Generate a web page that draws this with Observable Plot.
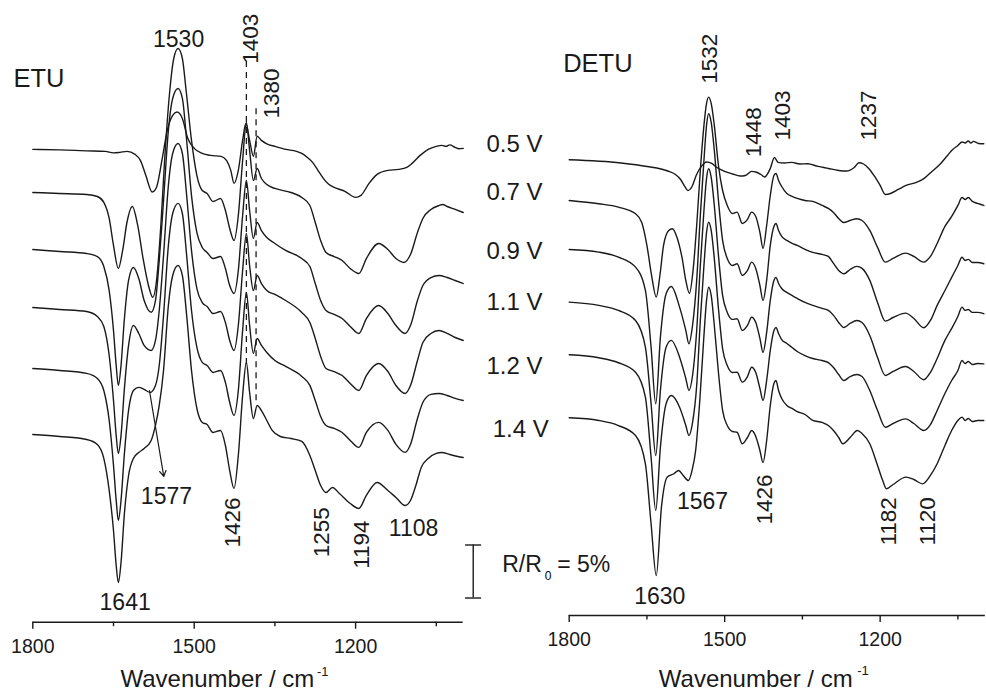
<!DOCTYPE html>
<html><head><meta charset="utf-8">
<script src="https://cdn.jsdelivr.net/npm/d3@7"></script>
<script src="https://cdn.jsdelivr.net/npm/@observablehq/plot@0.6"></script>
<style>
body{margin:0;background:#fff;}
#wrap{position:relative;width:986px;height:695px;overflow:hidden;background:#fff;}
#wrap svg{position:absolute;top:0;}
</style></head><body><div id="wrap"></div>
<script>
// ---------- data (wavenumber cm-1, R/R0 change in %) ----------
const potentials = ["0.5 V","0.7 V","0.9 V","1.1 V","1.2 V","1.4 V"];
const etuOffsets = [26.9, 22.83, 17.45, 11.98, 6.23, 0];
const detuOffsets = [24.34, 20.5, 15.88, 10.91, 5.94, 0];
const ticksMajor = [1800, 1500, 1200];
const ticksMinor = [1650, 1350, 1050];

const etu05 = [[1800,0],[1750,-0.05],[1700,-0.14],[1665,-0.19],[1650,-0.33],[1638,-0.28],[1625,-0.19],[1610,-0.47],[1600,-1.04],[1590,-2.45],[1578,-4.03],[1570,-3.58],[1560,-1.04],[1550,1.79],[1540,3.21],[1532,3.52],[1522,2.92],[1512,1.04],[1500,0.09],[1485,-0.38],[1470,-0.57],[1450,-0.66],[1440,-1.04],[1432,-1.98],[1426,-3.21],[1418,-1.98],[1410,0.85],[1404,2.45],[1397,0.85],[1390,-0.66],[1383,1.23],[1375,0.85],[1365,0.52],[1350,0.28],[1330,0],[1310,-0.19],[1300,-0.38],[1290,-0.75],[1280,-1.23],[1270,-1.98],[1260,-2.74],[1250,-3.3],[1235,-3.68],[1220,-3.96],[1200,-4.53],[1190,-4.34],[1175,-3.21],[1160,-2.36],[1140,-1.98],[1120,-1.89],[1105,-1.7],[1095,-1.32],[1080,-0.57],[1065,0],[1050,0.28],[1040,0.38],[1032,0.28],[1025,0.42],[1015,0.19],[1008,0.05],[1000,0.09]];
const etu07 = [[1800,0],[1750,-0.09],[1700,-0.19],[1680,-0.38],[1668,-0.94],[1658,-2.45],[1650,-5],[1641,-7.17],[1633,-5.47],[1625,-2.83],[1615,-1.32],[1605,-3.11],[1595,-6.23],[1585,-8.77],[1577,-9.88],[1570,-8.3],[1562,-3.11],[1555,3.02],[1545,9.81],[1538,12.64],[1530,13.58],[1522,12.64],[1515,9.62],[1505,4.91],[1495,1.6],[1485,0.19],[1476,-0.09],[1465,-0.85],[1451,-0.57],[1442,-1.7],[1434,-3.4],[1426,-4.53],[1418,-2.17],[1410,3.02],[1403,6.6],[1397,3.96],[1390,1.13],[1383,2.26],[1375,1.32],[1365,0.75],[1350,0.38],[1320,0],[1300,-0.47],[1285,-1.23],[1275,-2.83],[1265,-4.53],[1255,-5.66],[1240,-6.04],[1225,-6.42],[1210,-7.17],[1194,-7.64],[1180,-6.23],[1157,-4.81],[1140,-5.38],[1125,-6.23],[1110,-6.6],[1098,-5.85],[1085,-3.77],[1075,-2.45],[1060,-1.6],[1045,-1.23],[1038,-1.13],[1030,-1.32],[1015,-1.6],[1000,-1.89]];
const etu09 = [[1800,0],[1750,-0.19],[1700,-0.38],[1680,-0.66],[1668,-1.6],[1658,-3.87],[1650,-7.64],[1645,-10.94],[1641,-12.83],[1636,-10.94],[1630,-6.7],[1622,-2.92],[1613,-1.7],[1603,-2.74],[1593,-4.81],[1580,-5.92],[1572,-4.81],[1565,-1.04],[1557,4.62],[1548,11.23],[1540,14.25],[1530,15.19],[1522,14.25],[1514,10.28],[1505,5.09],[1495,1.6],[1485,0.19],[1476,-0.28],[1465,-0.85],[1451,-0.66],[1442,-1.79],[1434,-3.4],[1426,-4.15],[1418,-1.98],[1410,3.21],[1403,6.51],[1397,3.68],[1390,1.04],[1383,2.55],[1375,1.79],[1365,1.13],[1350,0.57],[1330,-0.09],[1300,-0.85],[1285,-1.6],[1275,-3.21],[1265,-4.81],[1255,-5.75],[1240,-6.13],[1225,-6.51],[1210,-7.26],[1194,-7.92],[1180,-6.51],[1157,-5.28],[1140,-6.04],[1125,-7.17],[1108,-7.92],[1098,-7.17],[1085,-4.81],[1075,-3.4],[1060,-2.64],[1045,-2.45],[1030,-2.64],[1015,-2.92],[1000,-3.21]];
const etu11 = [[1800,0],[1750,-0.19],[1700,-0.38],[1680,-0.85],[1668,-1.79],[1658,-4.53],[1650,-8.77],[1645,-12.08],[1641,-13.77],[1636,-12.08],[1630,-7.83],[1622,-3.58],[1613,-1.7],[1603,-2.45],[1593,-3.58],[1580,-4.06],[1572,-3.11],[1565,-0.28],[1557,4.91],[1548,11.51],[1540,14.53],[1530,15.47],[1522,14.53],[1514,10.57],[1505,5.38],[1495,1.79],[1485,0.47],[1476,0.09],[1465,-0.57],[1451,-0.38],[1442,-1.42],[1434,-3.11],[1426,-4.06],[1418,-1.7],[1410,3.49],[1403,6.98],[1397,3.96],[1390,1.6],[1383,3.02],[1375,2.26],[1365,1.6],[1350,1.23],[1330,0.66],[1300,-0.47],[1285,-1.42],[1275,-2.92],[1265,-4.62],[1255,-5.75],[1240,-6.04],[1225,-6.42],[1210,-7.17],[1194,-7.83],[1180,-6.42],[1157,-5.28],[1140,-6.04],[1125,-7.36],[1108,-8.11],[1098,-7.36],[1085,-5],[1075,-3.3],[1060,-2.45],[1045,-2.17],[1030,-2.45],[1015,-2.83],[1000,-3.11]];
const etu12 = [[1800,0],[1750,-0.19],[1700,-0.47],[1680,-0.94],[1668,-2.08],[1658,-4.91],[1650,-9.15],[1645,-12.45],[1641,-14.34],[1636,-12.45],[1630,-8.21],[1622,-3.96],[1613,-2.08],[1603,-1.79],[1593,-1.98],[1582,-2.26],[1572,-1.6],[1565,0.28],[1557,5],[1548,11.6],[1540,14.62],[1530,15.57],[1522,14.62],[1514,10.66],[1505,5.47],[1495,1.98],[1485,0.57],[1476,0.28],[1465,-0.38],[1451,-0.19],[1442,-1.32],[1434,-3.21],[1426,-4.43],[1418,-2.08],[1410,3.58],[1403,7.17],[1397,4.06],[1390,1.42],[1383,2.83],[1375,2.17],[1365,1.51],[1350,0.75],[1330,0.19],[1300,-0.75],[1285,-1.6],[1275,-3.02],[1265,-4.53],[1255,-5.38],[1240,-5.66],[1225,-6.04],[1210,-6.79],[1194,-7.45],[1180,-6.04],[1157,-5.09],[1140,-5.85],[1125,-7.17],[1108,-7.92],[1098,-7.17],[1085,-4.72],[1075,-3.21],[1060,-2.45],[1045,-2.36],[1030,-2.55],[1015,-2.83],[1000,-3.02]];
const etu14 = [[1800,0],[1750,-0.19],[1700,-0.47],[1680,-0.94],[1668,-2.26],[1658,-5.28],[1650,-9.06],[1645,-12.36],[1641,-13.96],[1636,-12.08],[1630,-7.64],[1622,-3.87],[1613,-2.26],[1603,-1.7],[1593,-1.32],[1580,-0.57],[1572,0.85],[1565,2.74],[1557,6.04],[1548,12.17],[1540,15],[1530,15.94],[1522,15],[1514,11.23],[1505,6.04],[1495,2.45],[1485,1.13],[1476,0.94],[1465,0.19],[1451,0.38],[1442,-1.04],[1434,-3.4],[1426,-5.09],[1418,-1.98],[1410,3.68],[1403,6.79],[1397,3.96],[1390,1.51],[1383,2.74],[1375,2.26],[1365,1.32],[1355,0.38],[1340,-0.19],[1320,-0.38],[1300,-0.66],[1285,-1.98],[1275,-3.4],[1265,-4.81],[1255,-5.47],[1243,-5],[1230,-5.57],[1210,-6.51],[1194,-6.98],[1180,-5.75],[1160,-4.53],[1140,-5.28],[1125,-5.94],[1108,-6.7],[1098,-6.23],[1088,-4.81],[1078,-3.11],[1065,-2.26],[1050,-1.79],[1040,-1.7],[1025,-1.89],[1010,-2.08],[1000,-2.17]];

const detu05 = [[1800,0],[1700,-0.3],[1650,-0.63],[1610,-1.06],[1595,-1.39],[1585,-1.86],[1577,-2.52],[1571,-2.9],[1563,-2.52],[1555,-1.48],[1545,-0.63],[1535,-0.21],[1525,-0.35],[1515,-0.73],[1500,-1.1],[1485,-1.34],[1470,-1.53],[1460,-1.48],[1448,-1.1],[1440,-1.15],[1430,-1.39],[1423,-1.62],[1412,-0.82],[1404,0.22],[1397,-0.25],[1385,-0.3],[1370,-0.25],[1355,-0.4],[1340,-0.38],[1320,-0.63],[1300,-0.82],[1280,-1.01],[1265,-1.06],[1250,-0.73],[1241,-0.28],[1232,-0.4],[1222,-0.82],[1212,-1.48],[1200,-2.42],[1190,-3.27],[1180,-3.18],[1165,-2.8],[1150,-2.42],[1130,-2.14],[1115,-1.76],[1100,-1.1],[1085,-0.44],[1070,0.41],[1060,0.97],[1050,1.35],[1042,1.68],[1036,1.58],[1030,1.77],[1025,1.58],[1020,1.73],[1010,1.54],[1000,1.51]];
const detu07 = [[1800,0],[1743,-0.31],[1705,-0.63],[1672,-1.25],[1660,-2.08],[1650,-4.25],[1641,-7.08],[1632,-9.12],[1625,-7.08],[1618,-4.25],[1608,-2.83],[1601,-2.67],[1592,-3.49],[1582,-5.47],[1575,-7.55],[1568,-8.77],[1561,-6.6],[1554,-2.36],[1547,2.83],[1540,7.08],[1535,9.15],[1531,9.75],[1526,9.15],[1520,7.08],[1512,3.3],[1504,0.94],[1495,-0.47],[1485,-1.23],[1476,-1.1],[1466,-2.17],[1456,-1.79],[1448,-1.1],[1440,-1.51],[1432,-3.02],[1426,-4.53],[1419,-2.36],[1412,0.47],[1405,2.36],[1401,2.55],[1396,1.89],[1390,1.32],[1380,0.66],[1370,0.38],[1360,0.19],[1345,0],[1330,-0.09],[1312,-0.47],[1300,-0.75],[1290,-1.13],[1280,-1.7],[1270,-2.08],[1258,-1.89],[1245,-1.73],[1235,-1.89],[1220,-2.83],[1205,-4.43],[1190,-5.82],[1175,-5.47],[1151,-4.97],[1135,-5.28],[1116,-5.82],[1103,-5.28],[1090,-4.06],[1075,-2.45],[1062,-1.51],[1050,-0.47],[1042,0.28],[1036,0.09],[1030,0.28],[1022,-0.09],[1012,-0.28],[1000,-0.47]];
const detu09 = [[1800,0],[1743,-0.25],[1705,-0.73],[1672,-1.67],[1653,-3.87],[1642,-9.22],[1633,-14.56],[1624,-8.27],[1613,-4.18],[1603,-3.49],[1587,-5.44],[1575,-7.64],[1569,-8.9],[1562,-7.17],[1554,-2.92],[1547,3.21],[1540,8.4],[1535,11.7],[1531,12.8],[1526,11.98],[1520,9.34],[1512,4.62],[1504,0.85],[1495,-0.85],[1485,-1.51],[1476,-1.35],[1466,-2.45],[1456,-1.98],[1448,-1.2],[1440,-1.79],[1432,-3.4],[1426,-4.81],[1419,-2.92],[1412,0.38],[1405,2.17],[1401,2.45],[1396,1.79],[1390,1.23],[1380,0.85],[1370,0.57],[1360,0.38],[1345,0],[1330,-0.28],[1312,-0.47],[1300,-0.66],[1290,-1.32],[1280,-1.98],[1270,-2.29],[1258,-1.89],[1245,-1.6],[1235,-1.79],[1220,-2.92],[1205,-5],[1190,-6.76],[1175,-6.42],[1151,-6.01],[1135,-6.51],[1116,-7.39],[1103,-6.7],[1090,-5.28],[1075,-3.87],[1062,-2.64],[1050,-1.51],[1042,-0.73],[1036,-1.04],[1030,-0.94],[1022,-1.23],[1012,-1.23],[1000,-1.35]];
const detu11 = [[1800,0],[1743,-0.31],[1705,-0.78],[1672,-1.73],[1653,-4.25],[1642,-9.58],[1633,-14.46],[1624,-8.33],[1613,-4.25],[1603,-3.61],[1587,-5.19],[1575,-7.2],[1569,-8.33],[1562,-6.92],[1554,-2.67],[1547,3.46],[1540,8.65],[1535,11.67],[1531,12.58],[1526,11.76],[1520,9.12],[1512,4.41],[1504,0.63],[1495,-0.97],[1485,-1.63],[1476,-1.57],[1466,-2.67],[1456,-2.2],[1448,-1.42],[1440,-1.92],[1432,-3.42],[1426,-4.75],[1419,-2.86],[1412,0.16],[1405,2.05],[1401,2.33],[1396,1.76],[1390,1.29],[1380,0.92],[1370,0.63],[1360,0.35],[1345,-0.03],[1330,-0.31],[1312,-0.59],[1300,-0.78],[1290,-1.25],[1280,-1.92],[1270,-2.39],[1258,-2.01],[1245,-1.73],[1235,-1.92],[1220,-3.14],[1205,-5.22],[1190,-6.92],[1175,-6.54],[1151,-6.07],[1135,-6.54],[1116,-7.32],[1103,-6.63],[1090,-5.31],[1075,-3.61],[1062,-2.48],[1050,-1.35],[1042,-0.47],[1036,-0.78],[1030,-0.69],[1022,-0.97],[1012,-0.97],[1000,-1.09]];
const detu12 = [[1800,0],[1743,-0.28],[1705,-0.75],[1672,-1.64],[1653,-4],[1642,-9.66],[1633,-14.69],[1624,-8.72],[1613,-4.62],[1603,-3.84],[1587,-4.94],[1575,-6.67],[1569,-7.61],[1562,-6.39],[1554,-2.9],[1547,3.24],[1540,8.42],[1535,11.54],[1531,12.51],[1526,11.73],[1520,9.08],[1512,4.37],[1504,0.59],[1495,-1.01],[1485,-1.67],[1476,-1.64],[1466,-2.58],[1456,-2.05],[1448,-1.17],[1440,-1.67],[1432,-3.18],[1426,-4.31],[1419,-2.42],[1412,0.41],[1405,2.29],[1401,2.58],[1396,2.01],[1390,1.44],[1380,1.07],[1370,0.69],[1360,0.31],[1345,-0.07],[1330,-0.35],[1312,-0.54],[1300,-0.73],[1290,-1.2],[1280,-1.86],[1270,-2.42],[1258,-2.05],[1245,-1.86],[1235,-2.05],[1220,-3.37],[1205,-5.25],[1190,-6.83],[1175,-6.48],[1151,-6.04],[1135,-6.48],[1116,-7.14],[1103,-6.58],[1090,-5.25],[1075,-3.65],[1062,-2.42],[1050,-1.48],[1042,-0.54],[1036,-0.82],[1030,-0.63],[1022,-0.92],[1012,-0.82],[1000,-0.85]];
const detu14 = [[1800,0],[1743,-0.25],[1705,-0.73],[1672,-1.67],[1653,-4.34],[1642,-10],[1632,-14.88],[1622,-8.43],[1611,-5.6],[1598,-5.28],[1589,-4.97],[1580,-5.44],[1570,-5.92],[1563,-4.97],[1556,-3.08],[1548,1.63],[1540,7.77],[1535,11.08],[1531,12.32],[1526,11.54],[1520,8.71],[1512,4.27],[1504,0.69],[1495,-0.73],[1485,-1.29],[1476,-1.36],[1466,-2.45],[1456,-1.86],[1448,-1.2],[1440,-1.76],[1432,-3.08],[1426,-4.22],[1419,-2.14],[1412,1.16],[1405,3.24],[1401,3.52],[1396,2.58],[1390,1.82],[1380,1.16],[1370,0.88],[1360,0.59],[1345,0.31],[1330,-0.25],[1312,-0.44],[1300,-0.73],[1290,-1.2],[1280,-1.86],[1272,-2.45],[1258,-1.86],[1244,-1.2],[1235,-1.48],[1220,-2.45],[1205,-4.5],[1195,-5.92],[1188,-6.7],[1175,-6.29],[1150,-5.6],[1135,-5.82],[1118,-6.23],[1103,-5.44],[1090,-4.34],[1075,-2.61],[1062,-1.2],[1050,-0.25],[1042,0.06],[1036,-0.25],[1030,-0.07],[1022,-0.35],[1012,-0.25],[1000,-0.25]];

// annotations (text, wavenumber, level in % on the stacked scale)
const etuFlatLabels = [["1530",1529,36.54],["1577",1551.6,-6.6],["1641",1628.4,-16.6],["1108",1092.2,-9.62]];
const etuRotLabels = [["1403",1394,34.97],["1380",1355.3,29.81],["1426",1428.1,-10.66],["1255",1262.4,-11.58],["1194",1188.1,-12.67]];
const etuDashes = [[1403,35.19,6.51],[1385,30.73,2.74]];
const etuArrow = [[1583.2,4.15,1556.6,-3.96]];
const detuFlatLabels = [["1567",1542.8,-8.58],["1630",1625.2,-17.55]];
const detuRotLabels = [["1532",1529.3,31.51],["1448",1444.4,24.58],["1403",1387.5,26.16],["1237",1221.2,26.16],["1426",1421.8,-10.07],["1182",1182.6,-12.05],["1120",1107.7,-12.05]];
const voltLabelPos = [[1851.5,25.06],[1851.5,20.5],[1851.5,15.0],[1851.5,10.19],[1851.5,4.15],[1839.4,-1.83]];
const scaleBarPct = 5;

// ---------- build ----------
const FONT = '"Liberation Sans", Arial, Helvetica, sans-serif';
const INK = "#1a1a1a";
function stack(traces, offsets) {
  return traces.flatMap((tr, i) => tr.map(([wn, r]) => ({wn, v: r + offsets[i], series: potentials[i]})));
}
const asObj = a => a.map(([t, wn, v]) => ({t, wn, v}));

function axisMarks(yMin, xEnd) {
  return [
    Plot.ruleY([{v: yMin, x1: 1800, x2: xEnd}], {y: "v", x1: "x1", x2: "x2", stroke: INK, strokeWidth: 1.4}),
    Plot.axisX({ticks: ticksMajor, tickSize: 7, tickPadding: 10, fontSize: 19.5, tickFormat: d => String(d), stroke: INK, strokeWidth: 1.4, fill: INK, label: null}),
    Plot.axisX({ticks: ticksMinor, tickSize: 4.5, tickFormat: () => "", stroke: INK, strokeWidth: 1.4, label: null})
  ];
}
function titleMarks(wnMain, vMain, wnSup, vSup) {
  return [
    Plot.text([{t: "Wavenumber / cm", wn: wnMain, v: vMain}], {x: "wn", y: "v", text: "t", textAnchor: "start", lineAnchor: "bottom", fontSize: 24, fill: INK}),
    Plot.text([{t: "-1", wn: wnSup, v: vSup}], {x: "wn", y: "v", text: "t", textAnchor: "start", lineAnchor: "bottom", fontSize: 13, fill: INK})
  ];
}
const style = {background: "transparent", overflow: "visible", fontFamily: FONT};

const left = Plot.plot({
  width: 476, height: 695,
  marginLeft: 32.3, marginRight: 13.3, marginTop: 10, marginBottom: 73.3,
  x: {domain: [1800, 1000], label: null},
  y: {domain: [-17.71, 40], axis: null},
  style,
  marks: [
    Plot.ruleX(etuDashes.map(([wn, v1, v2]) => ({wn, v1, v2})), {x: "wn", y1: "v1", y2: "v2", stroke: INK, strokeWidth: 1.3, strokeDasharray: "6,5"}),
    Plot.line(stack([etu05, etu07, etu09, etu11, etu12, etu14], etuOffsets), {x: "wn", y: "v", z: "series", curve: "monotone-x", stroke: INK, strokeWidth: 1.4}),
    Plot.arrow(etuArrow.map(([x1, y1, x2, y2]) => ({x1, y1, x2, y2})), {x1: "x1", y1: "y1", x2: "x2", y2: "y2", stroke: INK, strokeWidth: 1.2, headLength: 8}),
    ...axisMarks(-17.71, 1000),
    Plot.text([{t: "ETU", wn: 1835.9, v: 32.74}], {x: "wn", y: "v", text: "t", textAnchor: "start", lineAnchor: "bottom", fontSize: 25.5, fill: INK}),
    Plot.text(asObj(etuFlatLabels), {x: "wn", y: "v", text: "t", textAnchor: "middle", lineAnchor: "bottom", fontSize: 23, fill: INK}),
    Plot.text(asObj(etuRotLabels), {x: "wn", y: "v", text: "t", rotate: -90, textAnchor: "start", lineAnchor: "middle", fontSize: 22.5, fill: INK}),
    ...titleMarks(1637.1, -23.85, 1271.7, -22.8)
  ]
});
left.style.left = "0px";

const right = Plot.plot({
  width: 510, height: 695,
  marginLeft: 92.7, marginRight: 2.7, marginTop: 10, marginBottom: 80,
  x: {domain: [1800, 1000], label: null},
  y: {domain: [-18.65, 38.42], axis: null},
  style,
  marks: [
    Plot.line(stack([detu05, detu07, detu09, detu11, detu12, detu14], detuOffsets), {x: "wn", y: "v", z: "series", curve: "monotone-x", stroke: INK, strokeWidth: 1.4}),
    ...axisMarks(-18.65, 997),
    Plot.text([{t: "DETU", wn: 1811.6, v: 32.6}], {x: "wn", y: "v", text: "t", textAnchor: "start", lineAnchor: "bottom", fontSize: 25.5, fill: INK}),
    Plot.text(asObj(detuFlatLabels), {x: "wn", y: "v", text: "t", textAnchor: "middle", lineAnchor: "bottom", fontSize: 23, fill: INK}),
    Plot.text(asObj(detuRotLabels), {x: "wn", y: "v", text: "t", rotate: -90, textAnchor: "start", lineAnchor: "middle", fontSize: 22.5, fill: INK}),
    Plot.text(potentials.map((t, i) => ({t, wn: voltLabelPos[i][0], v: voltLabelPos[i][1]})), {x: "wn", y: "v", text: "t", textAnchor: "end", lineAnchor: "bottom", fontSize: 24, fill: INK}),
    // scale bar R/R0 = 5 %
    Plot.ruleX([{wn: 1985.2, v1: -12, v2: -12 - scaleBarPct}], {x: "wn", y1: "v1", y2: "v2", stroke: INK, strokeWidth: 1.4}),
    Plot.ruleY([{v: -12, x1: 2000, x2: 1969}, {v: -12 - scaleBarPct, x1: 2000, x2: 1969}], {y: "v", x1: "x1", x2: "x2", stroke: INK, strokeWidth: 1.4}),
    Plot.text([{t: "R/R", wn: 1929.3, v: -14.57}], {x: "wn", y: "v", text: "t", textAnchor: "start", lineAnchor: "bottom", fontSize: 23, fill: INK}),
    Plot.text([{t: "0", wn: 1929.3, v: -14.57}], {x: "wn", y: "v", text: "t", textAnchor: "start", lineAnchor: "bottom", fontSize: 12, dx: 42.6, dy: 8, fill: "#000"}),
    Plot.text([{t: "= " + scaleBarPct + "%", wn: 1929.3, v: -14.57}], {x: "wn", y: "v", text: "t", textAnchor: "start", lineAnchor: "bottom", fontSize: 23, dx: 55, fill: INK}),
    ...titleMarks(1627.1, -25.4, 1244.3, -24.3)
  ]
});
right.style.left = "476px";

const wrap = document.getElementById("wrap");
wrap.appendChild(left);
wrap.appendChild(right);
</script>
</body></html>
